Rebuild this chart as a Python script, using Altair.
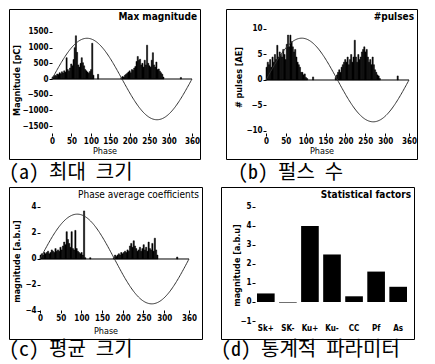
import altair as alt
import pandas as pd

# ---------------- data ----------------
phase_ticks = [0, 50, 100, 150, 200, 250, 300, 360]
BIN = 3  # phase bin width (deg)

# (a) Max magnitude [pC]
phase_a = list(range(0, 108, 3)) + [117] + list(range(177, 288, 3)) + [330]
mag_a = [60, 90, 120, 100, 160, 140, 200, 170, 230, 190,
         260, 220, 680, 300, 250, 350, 480, 420, 620, 1000,
         1380, 850, 450, 380, 500, 680, 520, 420, 300, 260,
         220, 180, 240, 300, 1140, 120,
         150,
         40, 80, 60, 120, 150, 180, 220, 260, 200, 300,
         280, 350, 400, 560, 720, 600, 630, 450, 500, 380,
         600, 450, 1080, 500, 420, 380, 600, 840, 450, 380,
         540, 300, 320, 250, 200, 150, 60,
         50]
amp_a = 1300

# (b) #pulses [AE]
phase_b = list(range(0, 105, 3)) + [117] + list(range(174, 288, 3)) + [330]
cnt_b = [2.5, 3.5, 3.0, 4.0, 2.5, 4.5, 3.5, 5.0, 4.0, 6.8,
         4.5, 5.5, 5.0, 4.5, 6.0, 5.0, 4.0, 7.0, 8.8, 6.5,
         8.8, 7.5, 6.5, 5.5, 6.0, 4.5, 3.5, 3.0, 2.5, 1.5,
         1.5, 1.0, 1.2, 0.5, 0.3,
         0.6,
         0.5, 1.0, 1.5, 2.0, 1.5, 2.5, 3.0, 3.5, 4.0, 3.5,
         4.5, 3.0, 4.0, 5.0, 3.5, 4.5, 7.8, 4.5, 3.5, 5.0,
         4.0, 4.5, 5.5, 6.0, 6.5, 5.5, 6.0, 4.5, 3.5, 4.0,
         3.0, 4.5, 3.0, 2.0, 1.5, 1.0, 0.8, 0.3,
         0.8]
amp_b = 8.2

# (c) Phase average coefficients [a.b.u]
phase_c = list(range(0, 111, 3)) + [120] + list(range(177, 285, 3)) + [330]
avg_c = [0.3, 0.4, 0.3, 0.5, 0.4, 0.5, 0.6, 0.4, 0.5, 0.7,
         0.6, 0.5, 0.8, 0.6, 0.7, 0.6, 0.9, 0.7, 1.0, 1.3,
         1.1, 2.1, 1.5, 1.2, 0.9, 2.1, 0.8, 0.7, 2.2, 0.8,
         0.6, 0.5, 0.4, 0.5, 0.3, 3.7, 0.1,
         0.1,
         0.1, 0.3, 0.2, 0.3, 0.4, 0.3, 0.5, 0.4, 0.5, 0.6,
         0.5, 0.7, 0.6, 1.0, 1.2, 0.9, 1.4, 1.0, 0.8, 0.6,
         0.7, 0.9, 0.6, 0.8, 1.1, 0.7, 0.9, 0.6, 1.3, 0.8,
         0.7, 1.2, 0.6, 1.6, 0.7, 0.3,
         0.15]
amp_c = 3.45

# (d) Statistical factors
factors = ["Sk+", "SK-", "Ku+", "Ku-", "CC", "Pf", "As"]
factor_vals = [0.45, -0.03, 4.0, 2.5, 0.3, 1.6, 0.8]

# ---------------- style ----------------
AX_FONT = "Liberation Sans Narrow, DejaVu Sans Condensed, sans-serif"
TT_FONT = "Liberation Sans Narrow, DejaVu Sans Condensed, sans-serif"
CAP_FONT = "Noto Sans Mono CJK KR, Noto Sans CJK KR, sans-serif"


def caption(text, dx, off):
    return alt.TitleParams(text, orient="bottom", anchor="start", font=CAP_FONT,
                           fontSize=20, fontWeight="normal", color="black",
                           offset=off, dx=dx)


def hist_panel(phases, values, amp, inner_title, inner_bold, ytitle, yticks,
               xdom, ydom, w, h, xoff, yoff, ytx, yty, xtpad, cap, cap_dx, cap_off):
    df = pd.DataFrame({"phase": phases, "value": values})
    xs = alt.Scale(domain=xdom, nice=False, zero=False)
    ys = alt.Scale(domain=ydom, nice=False, zero=False)
    xax = alt.Axis(values=phase_ticks, title="Phase", offset=xoff, domain=False,
                   grid=False, tickSize=3, labelPadding=1, titlePadding=xtpad,
                   format="d", labelFlush=False, labelOverlap=False,
                   titleFontWeight="normal")
    yax = alt.Axis(values=yticks, title=ytitle, offset=yoff, domain=False,
                   grid=False, tickSize=3, labelPadding=1, format="d",
                   titleX=ytx, titleY=yty, titleBaseline="middle",
                   labelOverlap=False)
    X = alt.X("phase:Q", scale=xs, axis=xax)
    Y = alt.Y("value:Q", scale=ys, axis=yax)

    bars = alt.Chart(df).transform_calculate(
        phase_end=f"datum.phase + {BIN}"
    ).mark_bar(color="black", stroke="black", strokeWidth=0.5).encode(
        x=X, x2="phase_end:Q", y=Y, y2=alt.datum(0))

    zero = alt.Chart(pd.DataFrame({"phase": [0], "phase_end": [360], "value": [0]})
                     ).mark_rule(color="black", strokeWidth=1).encode(
        x=X, x2="phase_end:Q", y=Y)

    sine = alt.Chart(alt.sequence(0, 361, 2, as_="phase")).transform_calculate(
        value=f"{amp} * sin(datum.phase * PI / 180)"
    ).mark_line(color="#333", strokeWidth=1).encode(x=X, y=Y)

    ttl = alt.Chart(pd.DataFrame({"t": [inner_title]})).mark_text(
        align="right", baseline="middle", font=TT_FONT, fontSize=10,
        fontWeight="bold" if inner_bold else "normal", color="black"
    ).encode(x=alt.value(w - 3), y=alt.value(8), text="t:N")

    return alt.layer(bars, zero, sine, ttl).properties(
        width=w, height=h, title=caption(cap, cap_dx, cap_off))


pa = hist_panel(phase_a, mag_a, amp_a, "Max magnitude", True, "Magnitude [pC]",
                [-1500, -1000, -500, 0, 500, 1000, 1500],
                [-110.6, 380.6], [-2553, 2234], 191, 150,
                -26, -43, -36, 71, 1, "(a) 최대 크기", 0, 4)

pb = hist_panel(phase_b, cnt_b, amp_b, "#pulses", True, "# pulses [AE]",
                [-10, -5, 0, 5, 10],
                [-100.7, 380.1], [-15.49, 13.92], 191, 150,
                -26, -40, -28, 68, 1, "(b) 펄스 수", 12, 4)

pc = hist_panel(phase_c, avg_c, amp_c, "Phase average coefficients", False,
                "magnitude [a.b.u]", [-4, -2, 0, 2, 4],
                [-74.9, 391.4], [-6.154, 5.538], 193, 152,
                -29, -31, -24, 74, 4, "(c) 평균 크기", 0, 1)

dfd = pd.DataFrame({"factor": factors, "value": factor_vals})
d_bars = alt.Chart(dfd).mark_bar(color="black").encode(
    x=alt.X("factor:N", sort=factors,
            scale=alt.Scale(range=[36, 186], paddingInner=0.2, paddingOuter=0),
            axis=alt.Axis(title=None, labelAngle=0, ticks=False, domain=False,
                          offset=-16, labelPadding=1, grid=False)),
    y=alt.Y("value:Q", scale=alt.Scale(domain=[-1.947, 6.05], nice=False, zero=False),
            axis=alt.Axis(values=[-1, 0, 1, 2, 3, 4, 5], title="magnitude [a.b.u]",
                          offset=-34, domain=False, grid=False, tickSize=3,
                          labelPadding=1, format="d", titleX=-19, titleY=78,
                          titleBaseline="middle", labelOverlap=False)),
    y2=alt.datum(0),
)
d_ttl = alt.Chart(pd.DataFrame({"t": ["Statistical factors"]})).mark_text(
    align="right", baseline="middle", font=TT_FONT, fontSize=10,
    fontWeight="bold", color="black"
).encode(x=alt.value(193 - 3), y=alt.value(8), text="t:N")
pd_ = alt.layer(d_bars, d_ttl).properties(
    width=193, height=152, title=caption("(d) 통계적 파라미터", 0, 1))

chart = alt.vconcat(
    alt.hconcat(pa, pb, spacing=24),
    alt.hconcat(pc, pd_, spacing=17),
    spacing=2,
).properties(padding=0, background="white").configure_view(
    stroke="black", strokeWidth=1
).configure_axis(
    labelFont=AX_FONT, labelFontSize=8, labelFontWeight="bold", labelColor="black",
    tickColor="black", titleFont=AX_FONT, titleFontSize=9, titleFontWeight="bold",
    titleColor="black",
)

chart.save("out.html", embed_options={"renderer": "svg", "actions": False})
